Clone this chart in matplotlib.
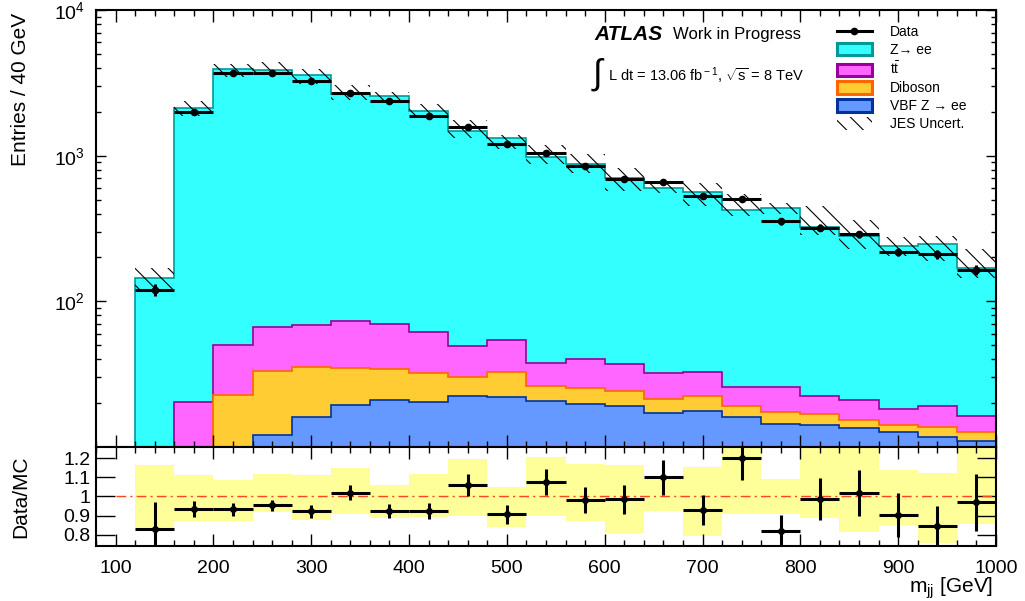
import numpy as np
import matplotlib as mpl
mpl.use("Agg")
import matplotlib.pyplot as plt
from matplotlib.patches import Patch
from matplotlib.lines import Line2D
from matplotlib.ticker import MultipleLocator, FixedLocator, LogLocator, NullFormatter

plt.rcParams['font.family'] = ['Liberation Sans', 'DejaVu Sans']
plt.rcParams['mathtext.fontset'] = 'custom'
plt.rcParams['mathtext.rm'] = 'Liberation Sans'
plt.rcParams['mathtext.it'] = 'Liberation Sans:italic'
plt.rcParams['mathtext.bf'] = 'Liberation Sans:bold'
plt.rcParams['hatch.linewidth'] = 0.8

# m_jj binning, 40 GeV per bin
edges = np.arange(120, 1001, 40)

data = [120, 2000, 3690, 3720, 3280, 2690, 2380, 1880, 1565, 1200, 1050,
        855, 695, 660, 525, 507, 355, 320, 288, 218, 210, 164]
zee = [137, 2120, 3900, 3834, 3491, 2562, 2510, 1973, 1426, 1271, 937,
       830, 668, 568, 533, 395, 409, 302, 262, 223, 230, 153]
ttbar = [3, 11.4, 27.4, 33.2, 34.0, 38.3, 35.5, 29.6, 19.1, 21.8, 11.6,
         14.7, 13.3, 10.9, 10.3, 6.7, 8.5, 5.7, 5.7, 4.1, 5.2, 3.6]
diboson = [3, 5, 14.8, 21.1, 19.1, 15.5, 13.5, 11.7, 7.8, 10.5, 5.7,
           5.7, 4.9, 4.1, 4.8, 3.1, 2.9, 2.6, 1.8, 1.6, 2.0, 1.6]
vbf = [2, 4, 8, 12.1, 16.1, 19.5, 20.9, 20.3, 22.5, 22.0, 20.7,
       19.8, 19.2, 17.1, 17.7, 16.1, 14.4, 14.2, 13.5, 12.6, 11.8, 11.0]

# JES uncertainty (relative, up / down) and ratio errors
jes_up = [0.163, 0.111, 0.086, 0.120, 0.111, 0.151, 0.060, 0.120, 0.197, 0.051, 0.209,
          0.171, 0.166, 0.094, 0.154, 0.30, 0.094, 0.40, 0.27, 0.137, 0.125, 0.35]
jes_dn = [0.171, 0.128, 0.128, 0.082, 0.123, 0.090, 0.111, 0.108, 0.103, 0.159, 0.103,
          0.128, 0.193, 0.077, 0.205, 0.090, 0.090, 0.114, 0.188, 0.150, 0.244, 0.142]
ratio_err = [0.145, 0.04, 0.034, 0.03, 0.033, 0.041, 0.037, 0.043, 0.057, 0.051, 0.07,
             0.068, 0.075, 0.09, 0.08, 0.116, 0.084, 0.111, 0.122, 0.115, 0.109, 0.148]

data = np.array(data, float)
centers = 0.5 * (edges[:-1] + edges[1:])
halfw = 0.5 * np.diff(edges)

c_vbf = np.array(vbf)
c_dib = c_vbf + np.array(diboson)
c_tt = c_dib + np.array(ttbar)
total = c_tt + np.array(zee)
up = total * (1 + np.array(jes_up))
dn = total * (1 - np.array(jes_dn))
ratio = data / total

fig = plt.figure(figsize=(10.25, 6.01), dpi=100)
L, W = 96 / 1025, 900 / 1025
ax = fig.add_axes([L, 1 - 447 / 601, W, 437 / 601])
axr = fig.add_axes([L, 1 - 546 / 601, W, 99 / 601], sharex=ax)

floor = 1.0
stack = [
    (total, '#33ffff', '#009999'),
    (c_tt, '#ff66ff', '#990099'),
    (c_dib, '#ffcc33', '#ff6600'),
    (c_vbf, '#6699ff', '#003399'),
]
for vals, fc, ec in stack:
    ax.stairs(vals, edges, baseline=floor, fill=True, facecolor=fc, edgecolor='none')
    ax.stairs(vals, edges, baseline=floor, color=ec, linewidth=1.2)

ax.stairs(up, edges, baseline=dn, fill=True, facecolor='none', edgecolor='black',
          hatch='\\\\', linewidth=0)

ax.errorbar(centers, data, xerr=halfw, yerr=np.sqrt(data), fmt='o', color='black',
            ms=4.5, elinewidth=2.2, capsize=0)

ax.set_yscale('log')
ax.set_ylim(10, 1e4)
ax.set_xlim(80, 1000)
ax.yaxis.set_major_locator(FixedLocator([1e2, 1e3, 1e4]))
ax.yaxis.set_minor_locator(LogLocator(base=10, subs=np.arange(2, 10)))
ax.yaxis.set_minor_formatter(NullFormatter())
ax.tick_params(labelbottom=False)

# ratio panel
axr.stairs(1 + np.array(jes_up), edges, baseline=1 - np.array(jes_dn), fill=True,
           facecolor='#ffff99', edgecolor='none')
axr.plot([100, 1000], [1, 1], color='#ff4422', linewidth=1.0, dashes=(7, 3, 1.5, 3))
axr.errorbar(centers, ratio, xerr=halfw, yerr=ratio_err, fmt='o', color='black',
             ms=4, elinewidth=2.2, capsize=0)
axr.set_ylim(0.74, 1.26)
axr.yaxis.set_major_locator(FixedLocator([0.8, 0.9, 1.0, 1.1, 1.2]))
axr.set_yticklabels(['0.8', '0.9', '1', '1.1', '1.2'])

for a in (ax, axr):
    a.xaxis.set_major_locator(MultipleLocator(100))
    a.xaxis.set_minor_locator(MultipleLocator(20))
    a.tick_params(which='both', direction='in', top=True, right=True, width=1.0,
                  labelsize=14)
    a.tick_params(axis='x', which='major', length=8.6)
    a.tick_params(axis='x', which='minor', length=4.3)
    for s in a.spines.values():
        s.set_linewidth(1.5)

ax.tick_params(axis='y', which='major', length=7.2, pad=8)
ax.tick_params(axis='y', which='minor', length=3.6)
axr.tick_params(axis='y', which='major', length=13.5, pad=4)
axr.tick_params(axis='y', which='minor', length=0)
axr.tick_params(axis='x', pad=10)

ax.set_ylabel('Entries / 40 GeV', fontsize=15, loc='top')
ax.yaxis.set_label_coords(-0.073, 0.993)
axr.set_ylabel('Data/MC', fontsize=15)
axr.yaxis.set_label_coords(-0.073, 0.5)
axr.set_xlabel(r'm$_{\rm jj}$ [GeV]', fontsize=15, loc='right')
axr.xaxis.set_label_coords(0.997, -0.30)

# ATLAS label and luminosity
ax.text(0.554, 0.943, 'ATLAS', transform=ax.transAxes, fontsize=15,
        fontweight='bold', fontstyle='italic', va='center', ha='left')
ax.text(0.641, 0.943, 'Work in Progress', transform=ax.transAxes, fontsize=12,
        va='center', ha='left')
ax.text(0.550, 0.853, r'$\int$', transform=ax.transAxes, fontsize=25,
        va='center', ha='left')
ax.text(0.569, 0.850, r'L dt = 13.06 fb$^{\rm -1}$, $\sqrt{\rm s}$ = 8 TeV',
        transform=ax.transAxes, fontsize=10.5, va='center', ha='left')

handles = [
    Line2D([], [], color='black', marker='o', ms=4.5, lw=2.2),
    Patch(facecolor='#33ffff', edgecolor='#009999', lw=2.2),
    Patch(facecolor='#ff66ff', edgecolor='#990099', lw=2.2),
    Patch(facecolor='#ffcc33', edgecolor='#ff6600', lw=2.2),
    Patch(facecolor='#6699ff', edgecolor='#003399', lw=2.2),
    Patch(facecolor='none', edgecolor='black', hatch='\\\\', lw=0),
]
labels = ['Data', 'Z→ ee', r't$\bar{\rm t}$', 'Diboson', 'VBF Z → ee', 'JES Uncert.']
ax.legend(handles, labels, loc='upper left', bbox_to_anchor=((837 - 96) / 900, 1 - 15 / 437),
          frameon=False, fontsize=10, borderpad=0, borderaxespad=0,
          handlelength=2.5, handleheight=1.0, handletextpad=1.3, labelspacing=0.28)

fig.savefig('out.png', dpi=100)
